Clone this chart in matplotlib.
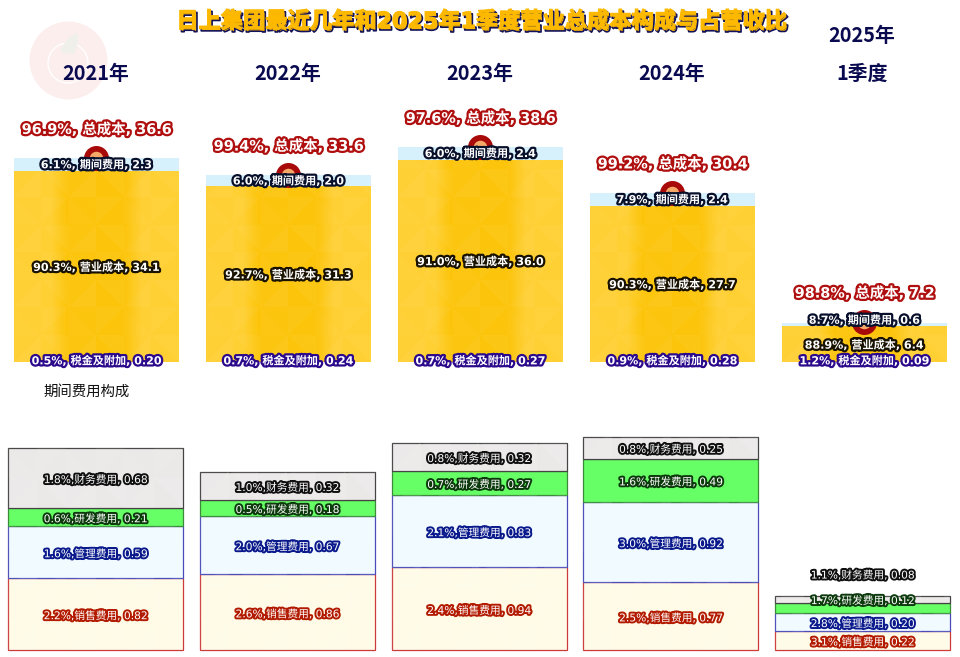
import matplotlib
matplotlib.use('Agg')
import numpy as np
import matplotlib.pyplot as plt
import matplotlib.patheffects as pe
from matplotlib.collections import PolyCollection
from matplotlib.patches import Circle, PathPatch
from matplotlib.path import Path

LABEL_FONT = ['DejaVu Sans', 'Noto Sans CJK SC']
HEAD_FONT = ['Noto Sans CJK SC', 'DejaVu Sans']
plt.rcParams['font.family'] = LABEL_FONT

# data in 100 million yuan, percentages are share of revenue
years = ['2021年', '2022年', '2023年', '2024年', '2025年', '1季度']

total_cost = [36.6, 33.6, 38.6, 30.4, 7.2]
total_pct = ['96.9%', '99.4%', '97.6%', '99.2%', '98.8%']

tax = [0.20, 0.24, 0.27, 0.28, 0.09]
tax_pct = ['0.5%', '0.7%', '0.7%', '0.9%', '1.2%']
oper = [34.1, 31.3, 36.0, 27.7, 6.4]
oper_pct = ['90.3%', '92.7%', '91.0%', '90.3%', '88.9%']
period = [2.3, 2.0, 2.4, 2.4, 0.6]
period_pct = ['6.1%', '6.0%', '6.0%', '7.9%', '8.7%']

sales = [0.82, 0.86, 0.94, 0.77, 0.22]
sales_pct = ['2.2%', '2.6%', '2.4%', '2.5%', '3.1%']
admin = [0.59, 0.67, 0.83, 0.92, 0.20]
admin_pct = ['1.6%', '2.0%', '2.1%', '3.0%', '2.8%']
rnd = [0.21, 0.18, 0.27, 0.49, 0.12]
rnd_pct = ['0.6%', '0.5%', '0.7%', '1.6%', '1.7%']
fin = [0.68, 0.32, 0.32, 0.25, 0.08]
fin_pct = ['1.8%', '1.0%', '0.8%', '0.8%', '1.1%']

W, H = 960, 657
fig = plt.figure(figsize=(W / 100, H / 100), dpi=100)


def px_axes(top, bottom):
    a = fig.add_axes([0, 1 - bottom / H, 1, (bottom - top) / H])
    a.axis('off')
    a.patch.set_alpha(0)
    return a


def outline(color, w=3.0):
    return [pe.withStroke(linewidth=w, foreground=color)]


def facets(ax, bar, step_x, step_y, strength=0.05):
    # faint pinwheel texture, clipped to the bar
    x0, y0, w, h = bar.get_x(), bar.get_y(), bar.get_width(), bar.get_height()
    tones = [0.0, 0.6, 0.2, 1.0, 0.4, 0.8, 0.1, 0.7]
    ring = [(-1, -1), (0, -1), (1, -1), (1, 0), (1, 1), (0, 1), (-1, 1), (-1, 0)]
    polys, faces = [], []
    for cx in np.arange(x0, x0 + w + step_x, step_x):
        for cy in np.arange(y0, y0 + h + step_y, step_y):
            for k in range(8):
                a, b = ring[k], ring[(k + 1) % 8]
                polys.append([(cx, cy), (cx + a[0] * step_x / 2, cy + a[1] * step_y / 2),
                              (cx + b[0] * step_x / 2, cy + b[1] * step_y / 2)])
                faces.append((1, 1, 1, strength * tones[k]))
    pc = PolyCollection(polys, facecolors=faces, linewidths=0, zorder=bar.get_zorder() + 0.2)
    ax.add_collection(pc, autolim=False)
    pc.set_clip_path(bar)


def gradient_bar(ax, x, bottom, height, width, colors):
    # bar first, then a gradient image clipped to it
    bar = ax.bar(x, height, width, bottom=bottom, color=colors[0], linewidth=0, zorder=2)[0]
    xl, yl = ax.get_xlim(), ax.get_ylim()
    im = ax.imshow(np.array([[matplotlib.colors.to_rgb(c) for c in colors]]), aspect='auto',
                   interpolation='bilinear', zorder=2.1,
                   extent=(x - width / 2, x + width / 2, bottom, bottom + height))
    ax.set_xlim(xl)
    ax.set_ylim(yl)
    im.set_clip_path(bar)
    return bar


# watermark
wm = fig.add_axes([0, 0, 1, 1])
wm.set_xlim(0, W)
wm.set_ylim(H, 0)
wm.axis('off')
wm.add_patch(Circle((68.5, 60.5), 39, color='#fdeeee', lw=0))
wm.add_patch(Circle((68, 63), 20, fill=False, ec='#ffffff', lw=1.0))
wm.add_patch(PathPatch(Path([(60, 52), (66, 36), (78, 33), (79, 45), (74, 54), (60, 52)],
                            [1, 3, 3, 3, 3, 2]), color='#eef0e9', lw=0))

# top panel
ax = px_axes(0, 362)
scale = 5.57
xs = np.arange(5)
ax.set_xlim(-0.5026, 4.4974)
ax.set_ylim(0, 362 / scale)
bw = 165 / 192
yellow = ['#ffd033'] * 3 + ['#fcc50c'] * 5 + ['#ffd033'] * 3
for i in xs:
    b = gradient_bar(ax, i, 0, oper[i] + tax[i], bw, yellow)
    facets(ax, b, bw / 3, 55 / scale, 0.05)
    ax.bar(i, period[i], bw, bottom=oper[i] + tax[i], color='#d6f1fb', linewidth=0, zorder=2.2)
ax.scatter(xs, total_cost, s=324, color='#a80a0a', linewidth=0, zorder=3)
ax.scatter(xs, total_cost, s=95, color='#f6a868', linewidth=0, zorder=3.1)
for i in xs:
    ax.annotate(f'{total_pct[i]}, 总成本, {total_cost[i]}', (i, total_cost[i]), xytext=(0, 20.5),
                textcoords='offset points', ha='center', va='center', fontsize=10.4, fontweight='bold',
                color='white', zorder=5, path_effects=outline('#b00f0f', 3.2))
    ax.annotate(f'{period_pct[i]}, 期间费用, {period[i]}', (i, oper[i] + tax[i] + period[i] / 2),
                xytext=(0, 3 if i == 4 else 0), textcoords='offset points', ha='center', va='center',
                fontsize=8, fontweight='bold', color='white', zorder=5,
                path_effects=outline('#08102c', 3.2))
    ax.annotate(f'{oper_pct[i]}, 营业成本, {oper[i]}', (i, tax[i] + oper[i] / 2),
                xytext=(0, -1), textcoords='offset points', ha='center', va='center',
                fontsize=8, fontweight='bold', color='white', zorder=5,
                path_effects=outline('#1a1200', 3.2))
    ax.annotate(f'{tax_pct[i]}, 税金及附加, {tax[i]:.2f}', (i, 0),
                xytext=(0, 1), textcoords='offset points', ha='center', va='center',
                fontsize=8, fontweight='bold', color='white', zorder=5,
                path_effects=outline('#2c0a8c', 3.2))

# bottom panel
ax2 = px_axes(362, 650)
scale2 = 87.8
ax2.set_xlim(-0.498, 4.508)
ax2.set_ylim(0, 288 / scale2)
bw2 = 175 / 191.75
layers = [
    (sales, sales_pct, '销售费用', '#fffbe6', '#cc3a3a', '#b31b00'),
    (admin, admin_pct, '管理费用', '#f0faff', '#4a4ab8', '#0a1a8c'),
    (rnd, rnd_pct, '研发费用', '#66ff66', '#3a8a3a', '#0c3a0c'),
    (fin, fin_pct, '财务费用', '#ebe8e8', '#444444', '#101010'),
]
bottoms = np.zeros(5)
for vals, pcts, name, fc, ec, oc in layers:
    bars = ax2.bar(xs, vals, bw2, bottom=bottoms, color=fc, edgecolor=ec, linewidth=0.9, zorder=2,
                   clip_on=False)
    for i in xs:
        if name != '研发费用':
            facets(ax2, bars[i], bw2 / 3, 60 / scale2, 0.12)
        y = bottoms[i] + vals[i] / 2
        off = -1.5
        if i == 4 and name == '财务费用':
            off = 17
        if i == 4 and name == '研发费用':
            off = 5
        ax2.annotate(f'{pcts[i]},{name}, {vals[i]:.2f}', (i, y), xytext=(0, off),
                     textcoords='offset points', ha='center', va='center', fontsize=7.7,
                     color='white', zorder=5, path_effects=outline(oc, 2.8))
    bottoms = bottoms + np.array(vals)

# titles
fig.text(482 / W, 1 - 21 / H, '日上集团最近几年和2025年1季度营业总成本构成与占营收比', ha='center', va='center',
         fontsize=16, fontweight='bold', color='#fdb900', family=LABEL_FONT,
         path_effects=[pe.Stroke(linewidth=1.2, foreground='#12125a', offset=(1.2, -1.5)),
                       pe.Stroke(linewidth=0.8, foreground='#fdb900'), pe.Normal()])
for i, y in enumerate(years[:4]):
    fig.text((96 + 192 * i) / W, 1 - 73.5 / H, y, ha='center', va='center', fontsize=14.3,
             fontweight='bold', color='#0a0a50', family=HEAD_FONT)
fig.text(862 / W, 1 - 35.5 / H, years[4], ha='center', va='center', fontsize=14.3,
         fontweight='bold', color='#0a0a50', family=HEAD_FONT)
fig.text(862 / W, 1 - 73.5 / H, years[5], ha='center', va='center', fontsize=14.3,
         fontweight='bold', color='#0a0a50', family=HEAD_FONT)
fig.text(87 / W, 1 - 392 / H, '期间费用构成', ha='center', va='center', fontsize=10.4,
         color='#111111', family=HEAD_FONT)

fig.savefig('out.png', dpi=100)
